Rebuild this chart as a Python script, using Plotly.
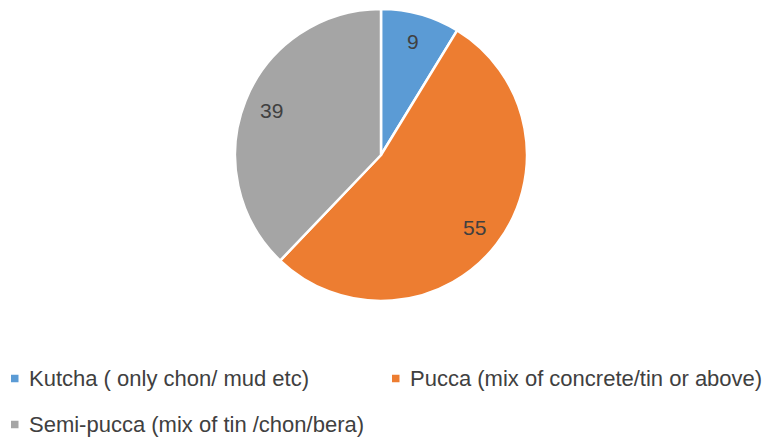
import math
import plotly.graph_objects as go

categories = ["Kutcha ( only chon/ mud etc)", "Pucca (mix of concrete/tin or above)", "Semi-pucca (mix of tin /chon/bera)"]
values = [9, 55, 39]
colors = ["#5B9BD5", "#ED7D31", "#A5A5A5"]

W, H = 767, 442
cx, cy, r = 381, 155, 146
FONT = "Liberation Sans, Arial, sans-serif"
TXT = "#404040"

fig = go.Figure(go.Pie(
    labels=categories,
    values=values,
    sort=False,
    direction="clockwise",
    rotation=0,
    marker=dict(colors=colors, line=dict(color="white", width=2.5)),
    textinfo="none",
    domain=dict(x=[(cx - r) / W, (cx + r) / W], y=[1 - (cy + r) / H, 1 - (cy - r) / H]),
    hoverinfo="label+value",
    showlegend=False,
))

# data labels placed along each slice's bisector (derived from values)
total = sum(values)
cum = 0
for v in values:
    mid = (cum + v / 2) / total * 2 * math.pi
    cum += v
    px = cx + 0.81 * r * math.sin(mid)
    py = cy - 0.81 * r * math.cos(mid)
    fig.add_annotation(x=px / W, y=1 - py / H, xref="paper", yref="paper",
                       xanchor="center", yanchor="middle",
                       text=str(v), showarrow=False,
                       font=dict(family=FONT, size=21, color=TXT))

# legend (square marker + label) laid out in two columns
legend_pos = [(11, 378.5), (392, 378.5), (11, 424.5)]
for name, col, (lx, ly) in zip(categories, colors, legend_pos):
    fig.add_shape(type="rect", xref="paper", yref="paper",
                  x0=lx / W, x1=(lx + 7.5) / W, y0=1 - (ly + 3.75) / H, y1=1 - (ly - 3.75) / H,
                  fillcolor=col, line=dict(width=0))
    fig.add_annotation(x=(lx + 16) / W, y=1 - ly / H, xref="paper", yref="paper",
                       xanchor="left", yanchor="middle", text=name, showarrow=False,
                       font=dict(family=FONT, size=22, color=TXT))

fig.update_layout(
    width=W, height=H,
    margin=dict(l=0, r=0, t=0, b=0),
    paper_bgcolor="white",
    plot_bgcolor="white",
    showlegend=False,
)

fig.write_html("out.html", config={"displayModeBar": False},
               post_script="document.body.style.margin='0px';document.body.style.overflow='hidden';")
